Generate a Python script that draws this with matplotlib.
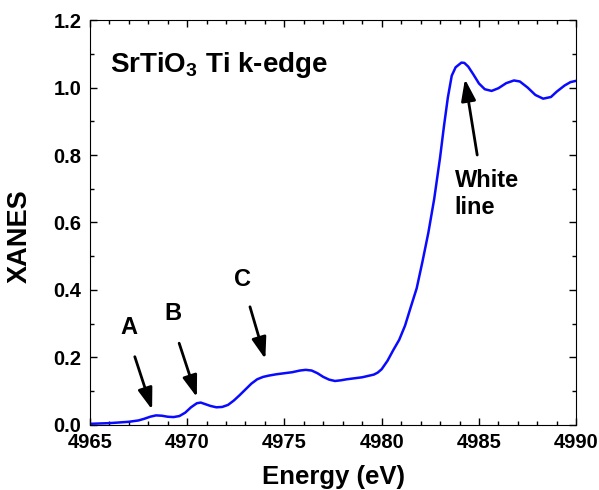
"""SrTiO3 Ti K-edge XANES spectrum."""

import matplotlib

matplotlib.use("Agg")
import matplotlib.pyplot as plt
from matplotlib.ticker import MultipleLocator, FormatStrFormatter

plt.rcParams["font.family"] = ["Liberation Sans", "DejaVu Sans"]
plt.rcParams["font.weight"] = "bold"
plt.rcParams["mathtext.fontset"] = "custom"
plt.rcParams["mathtext.bf"] = "Liberation Sans:bold"

energy = [
    4965.0, 4965.5, 4966.0, 4966.5, 4967.0, 4967.5, 4967.8, 4968.1, 4968.4,
    4968.7, 4969.0, 4969.3, 4969.6, 4969.9, 4970.2, 4970.5, 4970.7, 4970.9,
    4971.2, 4971.5, 4971.8, 4972.1, 4972.4, 4972.7, 4973.0, 4973.3, 4973.6,
    4973.9, 4974.2, 4974.6, 4975.0, 4975.4, 4975.8, 4976.1, 4976.4, 4976.7,
    4977.0, 4977.3, 4977.6, 4977.9, 4978.2, 4978.6, 4979.0, 4979.3, 4979.6,
    4979.8, 4980.0, 4980.3, 4980.6, 4980.9, 4981.2, 4981.5, 4981.8, 4982.1,
    4982.4, 4982.7, 4983.0, 4983.2, 4983.4, 4983.6, 4983.8, 4984.1, 4984.25,
    4984.45, 4984.7, 4985.0, 4985.3, 4985.65, 4986.0, 4986.4, 4986.8, 4987.1,
    4987.5, 4987.9, 4988.3, 4988.7, 4989.0, 4989.4, 4989.7, 4990.0,
]
xanes = [
    0.003, 0.004, 0.005, 0.007, 0.009, 0.013, 0.018, 0.024, 0.028,
    0.027, 0.024, 0.023, 0.026, 0.036, 0.052, 0.064, 0.066, 0.062,
    0.056, 0.052, 0.053, 0.059, 0.072, 0.088, 0.105, 0.122, 0.135,
    0.142, 0.146, 0.150, 0.153, 0.156, 0.161, 0.163, 0.161, 0.153,
    0.142, 0.134, 0.130, 0.132, 0.135, 0.138, 0.141, 0.145, 0.149,
    0.155, 0.165, 0.190, 0.222, 0.252, 0.294, 0.350, 0.405, 0.485,
    0.570, 0.670, 0.792, 0.885, 0.970, 1.035, 1.060, 1.074, 1.073,
    1.062, 1.040, 1.012, 0.995, 0.990, 0.998, 1.013, 1.021, 1.018,
    1.000, 0.978, 0.967, 0.972, 0.988, 1.006, 1.016, 1.020,
]

# feature labels: text, text position, arrow tail, arrow head
features = [
    ("A", (4967.02, 0.29), (4967.31, 0.202), (4968.2, 0.045)),
    ("B", (4969.28, 0.33), (4969.59, 0.242), (4970.5, 0.082)),
    ("C", (4972.87, 0.43), (4973.23, 0.35), (4974.02, 0.195)),
]

fig = plt.figure(figsize=(5.99, 4.90), dpi=100)
ax = fig.add_axes([0.150, 0.133, 0.812, 0.826])
ax.plot(energy, xanes, color="#0a0aff", lw=1.8)

arrow = dict(arrowstyle="-|>,head_length=0.65,head_width=0.22",
             mutation_scale=20, lw=2, color="black", shrinkA=0, shrinkB=0)
for name, txt, tail, head in features:
    ax.text(*txt, name, fontsize=17, fontweight="bold", ha="center", va="center")
    ax.annotate("", xy=head, xytext=tail, arrowprops=arrow)

ax.annotate("", xy=(4984.28, 1.025), xytext=(4984.91, 0.80), arrowprops=arrow)
ax.text(4983.75, 0.685, "White\nline", fontsize=17, fontweight="bold",
        ha="left", va="center", linespacing=1.25)

ax.text(4966.05, 1.067, "SrTiO$_\\mathbf{3}$ Ti k-edge", fontsize=20,
        fontweight="bold", ha="left", va="center")

ax.set_xlim(4965, 4990)
ax.set_ylim(0, 1.2)
ax.xaxis.set_major_locator(MultipleLocator(5))
ax.xaxis.set_minor_locator(MultipleLocator(1))
ax.yaxis.set_major_locator(MultipleLocator(0.2))
ax.yaxis.set_minor_locator(MultipleLocator(0.1))
ax.yaxis.set_major_formatter(FormatStrFormatter("%.1f"))
ax.tick_params(which="both", direction="in", top=True, right=True, width=1)
ax.tick_params(which="major", length=5, labelsize=14.5, pad=6)
ax.tick_params(which="minor", length=3)
for lab in ax.get_xticklabels() + ax.get_yticklabels():
    lab.set_fontweight("bold")

ax.set_xlabel("Energy (eV)", fontsize=18.5, fontweight="bold", labelpad=9)
ax.set_ylabel("XANES", fontsize=19.5, fontweight="bold")
ax.yaxis.set_label_coords(-0.117, 0.465)

fig.savefig("out.png", dpi=100)
